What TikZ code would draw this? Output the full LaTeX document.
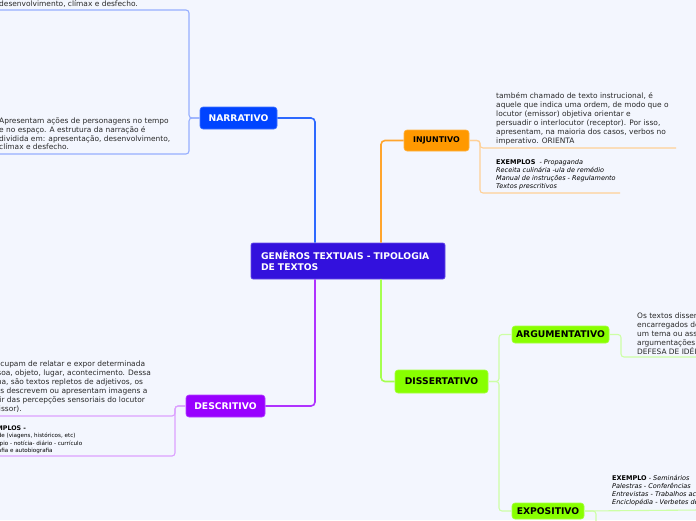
\documentclass[tikz,border=0pt]{standalone}
\usepackage{fontspec}
\setmainfont{DejaVu Sans}
\definecolor{bg}{RGB}{243,246,254}
\definecolor{cenc}{RGB}{51,17,221}
\definecolor{narc}{RGB}{0,68,255}
\definecolor{injc}{RGB}{255,153,0}
\definecolor{disc}{RGB}{136,255,0}
\definecolor{desc}{RGB}{153,0,255}
\definecolor{narl}{RGB}{45,105,255}
\definecolor{narn}{RGB}{150,175,255}
\definecolor{injl}{RGB}{255,165,45}
\definecolor{injn}{RGB}{255,208,150}
\definecolor{disl}{RGB}{165,255,80}
\definecolor{disn}{RGB}{205,255,165}
\definecolor{desl}{RGB}{175,50,255}
\definecolor{desn}{RGB}{220,160,255}
\definecolor{txt}{RGB}{40,40,40}
\newcommand\lblfont{\fontsize{9.2}{11}\selectfont\bfseries}
\newcommand\notefont{\fontsize{7.45}{9}\selectfont}
\newcommand\exfont{\fontsize{6.5}{8}\selectfont}
\tikzset{
  topic/.style={rounded corners=3pt, inner sep=0pt, font=\lblfont, draw=#1!75!white, fill=#1, line width=0.6pt},
  note/.style={inner sep=0pt, anchor=base west, align=left, text=txt, font=\notefont},
  exnote/.style={inner sep=0pt, anchor=base west, align=left, text=black, font=\exfont},
  mainline/.style={line width=1.6pt, rounded corners=4pt, draw=#1},
  subline/.style={line width=1.1pt, rounded corners=3pt, draw=#1},
}
\begin{document}
\begin{tikzpicture}[x=1pt,y=-1pt]
\useasboundingbox (0,0) rectangle (696,520);
\fill[bg] (0,0) rectangle (696,520);
\clip (0,0) rectangle (696,520);

% topic nodes
\node[topic=cenc, text=white, minimum width=194pt, minimum height=36pt, text width=174pt, align=left, rounded corners=2pt] (cen) at (348,261) {GENÊROS TEXTUAIS - TIPOLOGIA\\DE TEXTOS};
\node[topic=narc, text=white, minimum width=77pt, minimum height=22pt] (nar) at (238.5,118) {NARRATIVO};
\node[topic=injc, text=black, minimum width=65pt, minimum height=21pt, font=\fontsize{7.9}{9}\selectfont\bfseries] (inj) at (436.5,140.5) {INJUNTIVO};
\node[topic=disc, text=black, minimum width=93pt, minimum height=23pt] (dis) at (441.5,381.5) {DISSERTATIVO};
\node[topic=disc, text=black, minimum width=97pt, minimum height=17pt] (arg) at (560.5,334.5) {ARGUMENTATIVO};
\node[topic=disc, text=black, minimum width=72pt, minimum height=16pt] (exp) at (548,511) {EXPOSITIVO};
\node[topic=desc, text=white, minimum width=79pt, minimum height=22pt] (des) at (225.5,406) {DESCRITIVO};

% junction coordinates
\coordinate (jL) at (315,0);
\coordinate (jR) at (381,0);
\coordinate (nJ) at (189,0);
\coordinate (iJ) at (480,0);
\coordinate (dJ) at (499,0);
\coordinate (aJ) at (621,0);
\coordinate (sJ) at (175,0);

% main connectors
\draw[mainline=narl] (cen.north -| jL) |- (nar.east);
\draw[mainline=injl] (cen.north -| jR) |- (inj.west);
\draw[mainline=disl] (cen.south -| jR) |- (dis.west);
\draw[mainline=desl] (cen.south -| jL) |- (des.east);

% free ends
\coordinate (nU1) at (-5,10);
\coordinate (nU2) at (-5,154);
\coordinate (iU1) at (676,148);
\coordinate (iU2) at (620,193);
\coordinate (aU1) at (700,357);
\coordinate (eU1) at (700,510);
\coordinate (eU2) at (596,530);
\coordinate (sU1) at (-5,416);
\coordinate (sU2) at (-5,456);

% narrativo branches
\draw[subline=narn] (nar.west) -| (nJ |- nU1) -- (nU1);
\draw[subline=narn] (nar.west) -| (nJ |- nU2) -- (nU2);
% injuntivo branches
\draw[subline=injn] (inj.east) -| (iJ |- iU1) -- (iU1);
\draw[subline=injn] (inj.east) -| (iJ |- iU2) -- (iU2);
% dissertativo branches
\draw[subline=disn] (dis.east) -| (dJ |- arg.west) -- (arg.west);
\draw[subline=disn] (dis.east) -| (dJ |- exp.west) -- (exp.west);
\draw[subline=disn] (arg.east) -| (aJ |- aU1) -- (aU1);
\draw[subline=disn] (exp.east) -- (eU1);
\draw[subline=disn] (exp.east) -| (eU2);
% descritivo branches
\draw[subline=desn] (des.west) -| (sJ |- sU1) -- (sU1);
\draw[subline=desn] (des.west) -| (sJ |- sU2) -- (sU2);

% notes (anchor = baseline of the last line)
\node[note] (narA) at (-1,6.5) {desenvolvimento, clímax e desfecho.};
\node[note] (narB) at (-1,149.9) {Apresentam ações de personagens no tempo\\[-0.2pt]e no espaço. A estrutura da narração é\\[-0.2pt]dividida em: apresentação, desenvolvimento,\\[-0.2pt]clímax e desfecho.};
\node[note] (injA) at (496,143.5) {também chamado de texto instrucional, é\\aquele que indica uma ordem, de modo que o\\locutor (emissor) objetiva orientar e\\persuadir o interlocutor (receptor). Por isso,\\apresentam, na maioria dos casos, verbos no\\imperativo. ORIENTA};
\node[exnote] (injB) at (496,188) {\textbf{EXEMPLOS}~ - \textit{Propaganda}\\\textit{Receita culinária -ula de remédio}\\\textit{Manual de instruções - Regulamento}\\\textit{Textos prescritivos}};
\node[note] (argA) at (637,354.5) {Os textos dissertativos são\\encarregados de expor\\um tema ou assunto por meio de\\argumentações\\DEFESA DE IDÉIAS};
\node[exnote] (expA) at (612,504) {\textbf{EXEMPLO} - \textit{Seminários}\\\textit{Palestras - Conferências}\\\textit{Entrevistas - Trabalhos acadêmicos}\\\textit{Enciclopédia - Verbetes de dicionário}};
\node[note] (desA) at (-16,411.5) {Se ocupam de relatar e expor determinada\\pessoa, objeto, lugar, acontecimento. Dessa\\forma, são textos repletos de adjetivos, os\\quais descrevem ou apresentam imagens a\\partir das percepções sensoriais do locutor\\(emissor).};
\node[exnote, font=\fontsize{5.6}{7.4}\selectfont] (desB) at (-17,452.7) {{\fontsize{6.3}{7.4}\selectfont\bfseries EXEMPLOS -}\\Guia de (viagens, históricos, etc)\\Cardápio - notícia- diário - currículo\\Biografia e autobiografia};
\end{tikzpicture}
\end{document}
